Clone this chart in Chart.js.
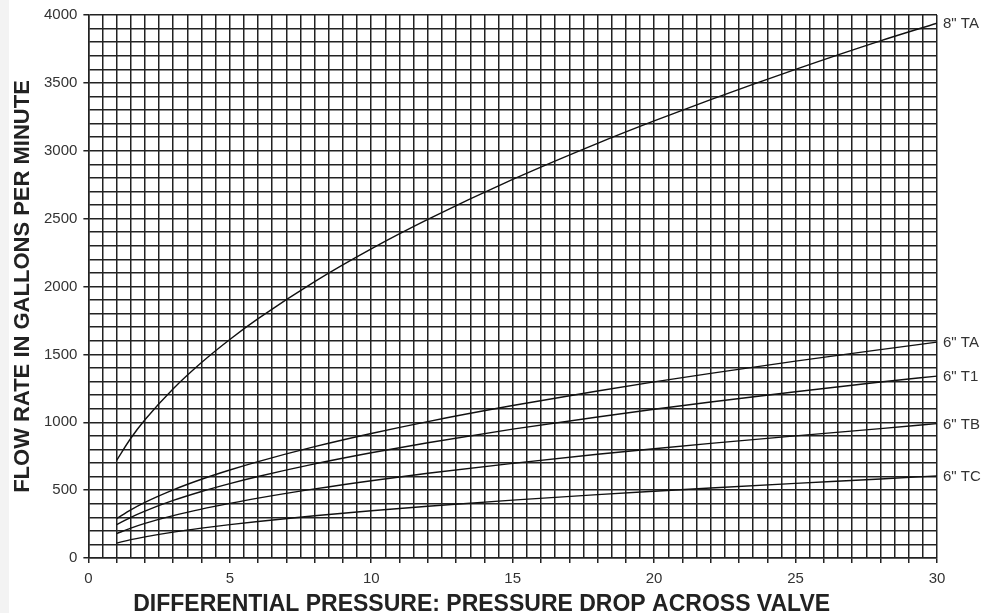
<!DOCTYPE html>
<html>
<head>
<meta charset="utf-8">
<script src="https://cdn.jsdelivr.net/npm/chart.js@4.4.1/dist/chart.umd.min.js"></script>
<style>
  html, body { margin: 0; padding: 0; }
  body { background: linear-gradient(to right, #f3f3f3 0, #f3f3f3 9px, #fff 9px); }
  #wrap { position: relative; width: 982px; height: 613px; }
</style>
</head>
<body>
<div id="wrap"><canvas id="chart"></canvas></div>
<script>
// Pressão diferencial (eixo x) onde as curvas foram lidas
const pressure = [1, 1.5, 2, 3, 4, 5, 6, 8, 10, 12, 15, 18, 20, 22, 25, 28, 30];

// Vazão em GPM
const ta8 = [720, 882, 1018, 1247, 1440, 1610, 1763, 2036, 2277, 2494, 2789, 3055, 3220, 3377, 3600, 3810, 3940];
const ta6 = [290, 355, 410, 502, 580, 648, 710, 820, 917, 1005, 1123, 1230, 1297, 1360, 1450, 1535, 1590];
const t16 = [245, 300, 346, 424, 490, 548, 600, 693, 775, 849, 949, 1039, 1096, 1149, 1225, 1296, 1340];
const tb6 = [180, 220, 255, 312, 360, 402, 441, 509, 569, 624, 697, 764, 805, 844, 900, 953, 990];
const tc6 = [110, 135, 156, 191, 220, 246, 269, 311, 348, 381, 426, 467, 492, 516, 550, 582, 605];

const seriesNames = ['8" TA', '6" TA', '6" T1', '6" TB', '6" TC'];
const seriesValues = [ta8, ta6, t16, tb6, tc6];

const xTitle = 'DIFFERENTIAL PRESSURE: PRESSURE DROP ACROSS VALVE';
const yTitle = 'FLOW RATE IN GALLONS PER MINUTE';

const FONT = 'Liberation Sans, Arial, Helvetica, sans-serif';
const INK = '#222';

function toPoints(values) {
    return values.map((v, i) => ({x: pressure[i], y: v}));
}

// Rótulos das curvas à direita e títulos dos eixos
const labelsPlugin = {
    id: 'labelsPlugin',
    afterDatasetsDraw(chart) {
        const ctx = chart.ctx;
        const xs = chart.scales.x;
        const ys = chart.scales.y;
        const area = chart.chartArea;
        ctx.save();
        ctx.font = '15px ' + FONT;
        ctx.fillStyle = '#333';
        ctx.textAlign = 'left';
        ctx.textBaseline = 'middle';
        chart.data.datasets.forEach(ds => {
            const last = ds.data[ds.data.length - 1];
            ctx.fillText(ds.label, xs.getPixelForValue(last.x) + 6, ys.getPixelForValue(last.y) + 1);
        });

        ctx.fillStyle = INK;
        ctx.font = 'bold 23px ' + FONT;
        ctx.textAlign = 'center';
        ctx.textBaseline = 'alphabetic';
        ctx.fillText(xTitle, (area.left + area.right) / 2 - 31, 611);

        ctx.font = 'bold 22px ' + FONT;
        ctx.translate(28.5, (area.top + area.bottom) / 2);
        ctx.rotate(-Math.PI / 2);
        ctx.fillText(yTitle, 0, 0);
        ctx.restore();
    }
};

new Chart(document.getElementById('chart'), {
    type: 'line',
    data: {
        datasets: seriesNames.map((name, i) => ({
            label: name,
            data: toPoints(seriesValues[i]),
            borderColor: '#111',
            borderWidth: 1.4,
            pointRadius: 0,
            fill: false,
            cubicInterpolationMode: 'monotone'
        }))
    },
    options: {
        responsive: true,
        maintainAspectRatio: false,
        animation: false,
        layout: {padding: {top: 9, right: 45, left: 38, bottom: 18}},
        plugins: {
            legend: {display: false},
            tooltip: {enabled: false}
        },
        scales: {
            x: {
                type: 'linear',
                min: 0,
                max: 30,
                border: {color: INK, width: 1.5},
                grid: {
                    color: INK,
                    lineWidth: 1.5,
                    tickLength: 5,
                    tickColor: c => Number.isInteger(c.tick.value) ? INK : 'rgba(0,0,0,0)'
                },
                ticks: {
                    stepSize: 0.5,
                    autoSkip: false,
                    maxRotation: 0,
                    padding: 7,
                    color: '#333',
                    font: {family: FONT, size: 15},
                    callback: v => v % 5 === 0 ? v : ''
                }
            },
            y: {
                min: 0,
                max: 4000,
                border: {color: INK, width: 1.5},
                grid: {
                    color: INK,
                    lineWidth: 1.5,
                    tickLength: 5,
                    tickColor: c => c.tick.value % 500 === 0 ? INK : 'rgba(0,0,0,0)'
                },
                ticks: {
                    stepSize: 100,
                    autoSkip: false,
                    padding: 6,
                    color: '#333',
                    font: {family: FONT, size: 15},
                    callback: v => v % 500 === 0 ? v : ''
                }
            }
        }
    },
    plugins: [labelsPlugin]
});
</script>
</body>
</html>
